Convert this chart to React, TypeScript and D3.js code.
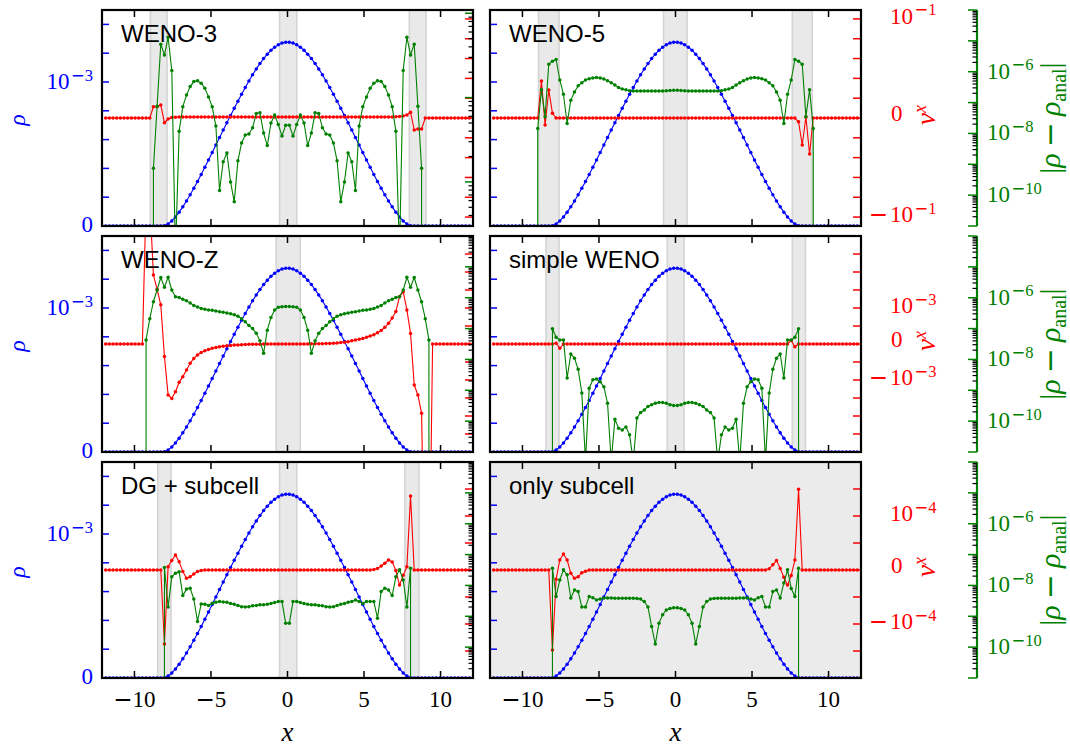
import React from "react";
import * as d3 from "d3";

// ---------------- data ----------------
const X_GRID = [
  -11.88, -11.64, -11.4, -11.16, -10.92, -10.68, -10.44, -10.2, -9.96, -9.72,
  -9.48, -9.24, -9.0, -8.76, -8.52, -8.28, -8.04, -7.8, -7.56, -7.32,
  -7.08, -6.84, -6.6, -6.36, -6.12, -5.88, -5.64, -5.4, -5.16, -4.92,
  -4.68, -4.44, -4.2, -3.96, -3.72, -3.48, -3.24, -3.0, -2.76, -2.52,
  -2.28, -2.04, -1.8, -1.56, -1.32, -1.08, -0.84, -0.6, -0.36, -0.12,
  0.12, 0.36, 0.6, 0.84, 1.08, 1.32, 1.56, 1.8, 2.04, 2.28,
  2.52, 2.76, 3.0, 3.24, 3.48, 3.72, 3.96, 4.2, 4.44, 4.68,
  4.92, 5.16, 5.4, 5.64, 5.88, 6.12, 6.36, 6.6, 6.84, 7.08,
  7.32, 7.56, 7.8, 8.04, 8.28, 8.52, 8.76, 9.0, 9.24, 9.48,
  9.72, 9.96, 10.2, 10.44, 10.68, 10.92, 11.16, 11.4, 11.64, 11.88,
];

const RHO = [
  0, 0, 0, 0, 0, 0, 0, 0, 0, 0,
  0, 0, 0, 0, 0, 0, 2e-6, 1.4e-5, 3.5e-5, 6.3e-5,
  9.6e-5, 1.33e-4, 1.74e-4, 2.17e-4, 2.62e-4, 3.09e-4, 3.58e-4, 4.08e-4, 4.59e-4, 5.1e-4,
  5.62e-4, 6.14e-4, 6.66e-4, 7.17e-4, 7.68e-4, 8.18e-4, 8.67e-4, 9.15e-4, 9.62e-4, 1.007e-3,
  1.05e-3, 1.091e-3, 1.128e-3, 1.163e-3, 1.193e-3, 1.22e-3, 1.242e-3, 1.259e-3, 1.27e-3, 1.276e-3,
  1.276e-3, 1.27e-3, 1.259e-3, 1.242e-3, 1.22e-3, 1.193e-3, 1.163e-3, 1.128e-3, 1.091e-3, 1.05e-3,
  1.007e-3, 9.62e-4, 9.15e-4, 8.67e-4, 8.18e-4, 7.68e-4, 7.17e-4, 6.66e-4, 6.14e-4, 5.62e-4,
  5.1e-4, 4.59e-4, 4.08e-4, 3.58e-4, 3.09e-4, 2.62e-4, 2.17e-4, 1.74e-4, 1.33e-4, 9.6e-5,
  6.3e-5, 3.5e-5, 1.4e-5, 2e-6, 0, 0, 0, 0, 0, 0,
  0, 0, 0, 0, 0, 0, 0, 0, 0, 0,
];

const VX_WENO3 = [
  0, 0, 0, 0, 0, 0, 0, 0, 0, 0,
  0, 0, 0, 5.7e-6, 5.7e-6, 6.6e-6, -2.4e-6, -5e-7, 3e-7, 4e-7,
  5e-7, 5e-7, 5e-7, 5e-7, 5e-7, 5e-7, 5e-7, 5e-7, 5e-7, 5e-7,
  5e-7, 5e-7, 5e-7, 5e-7, 5e-7, 5e-7, 5e-7, 5e-7, 5e-7, 5e-7,
  5e-7, 5e-7, 5e-7, 5e-7, 5e-7, 5e-7, 5e-7, 5e-7, 5e-7, 5e-7,
  5e-7, 5e-7, 5e-7, 5e-7, 5e-7, 5e-7, 5e-7, 5e-7, 5e-7, 5e-7,
  5e-7, 5e-7, 5e-7, 5e-7, 5e-7, 5e-7, 5e-7, 5e-7, 5e-7, 5e-7,
  5e-7, 5e-7, 5e-7, 5e-7, 5e-7, 5e-7, 5e-7, 5e-7, 5e-7, 6e-7,
  8e-7, 1.0e-6, 1.5e-6, 2.9e-6, -6.1e-6, -5.5e-6, -5.5e-6, 0, 0, 0,
  0, 0, 0, 0, 0, 0, 0, 0, 0, 0,
];

const VX_WENO5 = [
  0, 0, 0, 0, 0, 0, 0, 0, 0, 0,
  0, 0, 0, 7.4e-5, -3.5e-6, 2.6e-5, 2.4e-6, 0, 0, 0,
  0, 0, 0, 0, 0, 0, 0, 0, 0, 0,
  0, 0, 0, 0, 0, 0, 0, 0, 0, 0,
  0, 0, 0, 0, 0, 0, 0, 0, 0, 0,
  0, 0, 0, 0, 0, 0, 0, 0, 0, 0,
  0, 0, 0, 0, 0, 0, 0, 0, 0, 0,
  0, 0, 0, 0, 0, 0, 0, 0, 0, 0,
  0, 0, 0, -1.9e-6, -2.3e-5, 5e-7, -6.6e-5, 0, 0, 0,
  0, 0, 0, 0, 0, 0, 0, 0, 0, 0,
];

const VX_WENOZ = [
  0, 0, 0, 0, 0, 0, 0, 0, 0, 0,
  0, 1e3, 1e3, 6.8e-2, 1.1e-2, 1.5e-3, -7e-5, -6.8e-3, -1.05e-2, -4.5e-3,
  -1.35e-3, -6.5e-4, -2.75e-4, -1.17e-4, -8e-5, -6.1e-5, -4.7e-5, -3.7e-5, -3.0e-5, -2.4e-5,
  -1.9e-5, -1.5e-5, -1.2e-5, -1.0e-5, -8e-6, -6e-6, -5e-6, -4e-6, -3e-6, -2e-6,
  -2e-6, -1e-6, -1e-6, 0, 0, 0, 0, 0, 0, 0,
  0, 0, 0, 0, 0, 0, 1e-6, 1e-6, 2e-6, 2e-6,
  3e-6, 3e-6, 4e-6, 5e-6, 8e-6, 1.0e-5, 1.3e-5, 1.8e-5, 2.2e-5, 2.6e-5,
  3.1e-5, 3.7e-5, 4.4e-5, 5.2e-5, 6.2e-5, 7.5e-5, 9.3e-5, 1.4e-4, 2.8e-4, 6.3e-4,
  4.3e-3, 7.9e-3, 7.8e-4, 5.9e-5, -1.9e-3, -6.8e-3, -7.1e-2, -1e10, -1e10, 0,
  0, 0, 0, 0, 0, 0, 0, 0, 0, 0,
];

const VX_SIMPLE = [
  0, 0, 0, 0, 0, 0, 0, 0, 0, 0,
  0, 0, 0, 0, 0, 0, 0, 4e-6, -2.4e-5, 0,
  0, 0, 0, 0, 0, 0, 0, 0, 0, 0,
  0, 0, 0, 0, 0, 0, 0, 0, 0, 0,
  0, 0, 0, 0, 0, 0, 0, 0, 0, 0,
  0, 0, 0, 0, 0, 0, 0, 0, 0, 0,
  0, 0, 0, 0, 0, 0, 0, 0, 0, 0,
  0, 0, 0, 0, 0, 0, 0, 0, 0, 0,
  0, 2e-5, -1.5e-5, 0, 0, 0, 0, 0, 0, 0,
  0, 0, 0, 0, 0, 0, 0, 0, 0, 0,
];

const VX_DG = [
  0, 0, 0, 0, 0, 0, 0, 0, 0, 0,
  0, 0, 0, 0, 0, 0, -5.5e-4, 1.2e-6, 3.5e-6, 5.6e-6,
  3.1e-6, -6e-7, -3.1e-6, -2.5e-6, -1.5e-6, -6e-7, -2e-7, 0, 0, 0,
  0, 0, 0, 0, 0, 0, 0, 0, 0, 0,
  0, 0, 0, 0, 0, 0, 0, 0, 0, 0,
  0, 0, 0, 0, 0, 0, 0, 0, 0, 0,
  0, 0, 0, 0, 0, 0, 0, 0, 0, 0,
  0, 0, 0, 2e-7, 6e-7, 1.5e-6, 2.5e-6, 3.7e-6, 3.0e-6, -2e-7,
  -5.6e-6, -1.9e-6, 1.2e-6, 5.5e-4, 0, 0, 0, 0, 0, 0,
  0, 0, 0, 0, 0, 0, 0, 0, 0, 0,
];

const VX_SUB = [
  0, 0, 0, 0, 0, 0, 0, 0, 0, 0,
  0, 0, 0, 0, 0, 0, -9.1e-4, -3.4e-6, 3.7e-6, 5.9e-6,
  3.7e-6, -1.2e-6, -3.1e-6, -2.5e-6, -1e-6, -5e-7, 0, 0, 0, 0,
  0, 0, 0, 0, 0, 0, 0, 0, 0, 0,
  0, 0, 0, 0, 0, 0, 0, 0, 0, 0,
  0, 0, 0, 0, 0, 0, 0, 0, 0, 0,
  0, 0, 0, 0, 0, 0, 0, 0, 0, 0,
  0, 0, 0, 0, 0, 5e-7, 1.9e-6, 3.5e-6, 6e-7, -2.7e-6,
  -5.6e-6, -2e-6, 3.7e-6, 9.7e-4, 0, 0, 0, 0, 0, 0,
  0, 0, 0, 0, 0, 0, 0, 0, 0, 0,
];

const ERR_WENO3 = [
  0, 0, 0, 0, 0, 0, 0, 0, 0, 0,
  0, 0, 0, 1.45e-6, 7.9e-6, 4.3e-5, 3.2e-5, 5.2e-5, 2.1e-5, 1.4e-7,
  4.0e-6, 7.8e-6, 1.07e-5, 1.35e-5, 1.55e-5, 1.58e-5, 1.48e-5, 1.29e-5, 1.02e-5, 7.8e-6,
  4.6e-6, 7.9e-7, 1.74e-6, 2.2e-6, 1.0e-6, 5.8e-7, 1.78e-6, 2.9e-6, 3.6e-6, 3.7e-6,
  4.4e-6, 6.5e-6, 6.6e-6, 3.8e-6, 2.7e-6, 5.0e-6, 6.2e-6, 4.8e-6, 3.5e-6, 4.7e-6,
  4.7e-6, 3.5e-6, 4.8e-6, 6.2e-6, 5.0e-6, 2.7e-6, 3.8e-6, 6.6e-6, 6.5e-6, 4.4e-6,
  3.7e-6, 3.6e-6, 2.9e-6, 1.78e-6, 5.8e-7, 1.0e-6, 2.2e-6, 1.74e-6, 7.9e-7, 4.6e-6,
  7.8e-6, 1.02e-5, 1.29e-5, 1.48e-5, 1.58e-5, 1.55e-5, 1.35e-5, 1.07e-5, 7.8e-6, 4.0e-6,
  1.4e-7, 2.1e-5, 5.2e-5, 3.2e-5, 4.3e-5, 7.9e-6, 1.45e-6, 0, 0, 0,
  0, 0, 0, 0, 0, 0, 0, 0, 0, 0,
];

const ERR_WENO5 = [
  0, 0, 0, 0, 0, 0, 0, 0, 0, 0,
  0, 0, 1.45e-8, 2.6e-7, 3.5e-8, 1.74e-6, 2.2e-6, 2.5e-6, 5.4e-7, 1.86e-7,
  2.1e-8, 1.2e-7, 2.2e-7, 3.5e-7, 4.4e-7, 5.4e-7, 5.9e-7, 6.3e-7, 6.5e-7, 6.3e-7,
  5.8e-7, 5.1e-7, 4.4e-7, 3.7e-7, 3.1e-7, 2.75e-7, 2.6e-7, 2.4e-7, 2.35e-7, 2.35e-7,
  2.35e-7, 2.35e-7, 2.35e-7, 2.35e-7, 2.35e-7, 2.35e-7, 2.38e-7, 2.4e-7, 2.45e-7, 2.5e-7,
  2.5e-7, 2.45e-7, 2.4e-7, 2.38e-7, 2.35e-7, 2.35e-7, 2.35e-7, 2.35e-7, 2.35e-7, 2.35e-7,
  2.35e-7, 2.35e-7, 2.4e-7, 2.6e-7, 2.75e-7, 3.1e-7, 3.7e-7, 4.4e-7, 5.1e-7, 5.8e-7,
  6.3e-7, 6.5e-7, 6.3e-7, 5.9e-7, 5.4e-7, 4.4e-7, 3.5e-7, 2.2e-7, 1.2e-7, 2.1e-8,
  1.86e-7, 5.4e-7, 2.5e-6, 2.2e-6, 1.74e-6, 3.5e-8, 2.6e-7, 1.45e-8, 0, 0,
  0, 0, 0, 0, 0, 0, 0, 0, 0, 0,
];

const ERR_WENOZ = [
  0, 0, 0, 0, 0, 0, 0, 0, 0, 0,
  0, 4.3e-8, 2.1e-7, 7.4e-7, 1.78e-6, 4.5e-6, 2.2e-6, 4.6e-6, 1.78e-6, 1.07e-6,
  1.02e-6, 8.9e-7, 7.9e-7, 6.8e-7, 5.6e-7, 5.0e-7, 4.5e-7, 4.2e-7, 4.0e-7, 3.9e-7,
  3.7e-7, 3.5e-7, 3.4e-7, 3.2e-7, 3.0e-7, 2.8e-7, 2.5e-7, 2.1e-7, 1.66e-7, 1.25e-7,
  1.0e-7, 7.0e-8, 4.0e-8, 1.6e-8, 8.9e-8, 2.3e-7, 4.0e-7, 4.9e-7, 5.1e-7, 5.2e-7,
  5.2e-7, 5.1e-7, 4.9e-7, 4.0e-7, 2.3e-7, 8.9e-8, 1.6e-8, 4.0e-8, 7.0e-8, 1.0e-7,
  1.25e-7, 1.66e-7, 2.1e-7, 2.5e-7, 2.8e-7, 3.0e-7, 3.2e-7, 3.4e-7, 3.5e-7, 3.7e-7,
  3.9e-7, 4.0e-7, 4.2e-7, 4.5e-7, 5.0e-7, 5.6e-7, 6.8e-7, 7.9e-7, 8.9e-7, 1.02e-6,
  1.07e-6, 1.78e-6, 4.6e-6, 2.2e-6, 4.5e-6, 1.78e-6, 7.4e-7, 2.1e-7, 4.3e-8, 0,
  0, 0, 0, 0, 0, 0, 0, 0, 0, 0,
];

const ERR_SIMPLE = [
  0, 0, 0, 0, 0, 0, 0, 0, 0, 0,
  0, 0, 0, 0, 0, 0, 9.8e-8, 5.2e-8, 4.3e-8, 4.3e-8,
  2.5e-9, 1.5e-8, 1.1e-8, 4.8e-9, 8.1e-10, 5e-12, 1.17e-9, 2.2e-9, 2.3e-9, 1.9e-9,
  1.3e-9, 3.8e-10, 5e-12, 1.15e-10, 5.9e-11, 5.2e-11, 6.5e-11, 3.6e-11, 5e-12, 1.26e-10,
  1.9e-10, 2.3e-10, 3.0e-10, 3.4e-10, 3.8e-10, 4.0e-10, 4.0e-10, 3.8e-10, 3.4e-10, 3.2e-10,
  3.2e-10, 3.4e-10, 3.8e-10, 4.0e-10, 4.0e-10, 3.8e-10, 3.4e-10, 3.0e-10, 2.3e-10, 1.9e-10,
  1.26e-10, 5e-12, 3.6e-11, 6.5e-11, 5.2e-11, 5.9e-11, 1.15e-10, 5e-12, 3.8e-10, 1.3e-9,
  1.9e-9, 2.3e-9, 2.2e-9, 1.17e-9, 5e-12, 8.1e-10, 4.8e-9, 1.1e-8, 1.5e-8, 2.5e-9,
  4.3e-8, 4.3e-8, 5.2e-8, 9.8e-8, 0, 0, 0, 0, 0, 0,
  0, 0, 0, 0, 0, 0, 0, 0, 0, 0,
];

const ERR_DG = [
  0, 0, 0, 0, 0, 0, 0, 0, 0, 0,
  0, 0, 0, 0, 0, 0, 3.8e-8, 2.0e-9, 1.9e-8, 2.5e-8,
  2.8e-8, 4.7e-9, 7.6e-9, 8.1e-9, 3.6e-9, 6.8e-10, 2.5e-9, 2.45e-9, 2.25e-9, 2.65e-9,
  2.85e-9, 3.0e-9, 2.9e-9, 2.85e-9, 2.6e-9, 2.45e-9, 2.25e-9, 2.05e-9, 2.0e-9, 2.05e-9,
  2.2e-9, 2.25e-9, 2.35e-9, 2.35e-9, 2.45e-9, 2.6e-9, 2.8e-9, 3.0e-9, 3.0e-9, 6.0e-10,
  6.0e-10, 3.0e-9, 3.0e-9, 2.8e-9, 2.6e-9, 2.45e-9, 2.35e-9, 2.35e-9, 2.25e-9, 2.2e-9,
  2.05e-9, 2.0e-9, 2.05e-9, 2.25e-9, 2.45e-9, 2.6e-9, 2.85e-9, 3.0e-9, 3.4e-9, 3.0e-9,
  2.6e-9, 3.0e-9, 3.0e-9, 3.0e-9, 8.7e-10, 6.3e-9, 8.1e-9, 7.1e-9, 4.7e-9, 1.9e-8,
  3.2e-8, 1.5e-8, 2.0e-9, 3.6e-8, 0, 0, 0, 0, 0, 0,
  0, 0, 0, 0, 0, 0, 0, 0, 0, 0,
];

const ERR_SUB = [
  0, 0, 0, 0, 0, 0, 0, 0, 0, 0,
  0, 0, 0, 0, 0, 0, 3.6e-8, 4.4e-9, 1.5e-8, 3.2e-8,
  2.2e-8, 3.9e-9, 7.1e-9, 6.3e-9, 2.0e-9, 2.0e-9, 4.4e-9, 4.0e-9, 3.4e-9, 3.6e-9,
  3.9e-9, 3.9e-9, 3.9e-9, 3.85e-9, 3.85e-9, 3.85e-9, 3.85e-9, 3.85e-9, 3.85e-9, 3.8e-9,
  3.6e-9, 3.0e-9, 2.0e-9, 4.7e-10, 1.26e-10, 6.0e-10, 1.12e-9, 1.6e-9, 1.8e-9, 1.9e-9,
  1.9e-9, 1.8e-9, 1.6e-9, 1.12e-9, 6.0e-10, 1.26e-10, 4.7e-10, 2.0e-9, 3.0e-9, 3.6e-9,
  3.8e-9, 3.85e-9, 3.85e-9, 3.85e-9, 3.85e-9, 3.85e-9, 3.85e-9, 3.9e-9, 3.9e-9, 3.9e-9,
  3.6e-9, 3.4e-9, 4.0e-9, 4.4e-9, 2.0e-9, 2.0e-9, 6.3e-9, 7.1e-9, 3.9e-9, 1.2e-8,
  3.2e-8, 8.0e-9, 4.4e-9, 3.6e-8, 0, 0, 0, 0, 0, 0,
  0, 0, 0, 0, 0, 0, 0, 0, 0, 0,
];

const TITLES = ["WENO-3", "WENO-5", "WENO-Z", "simple WENO", "DG + subcell", "only subcell"];

const BANDS_WENO3 = [[-8.96, -7.87], [-0.52, 0.61], [7.96, 9.05]];
const BANDS_WENO5 = [[-8.95, -7.61], [-0.78, 0.76], [7.63, 8.93]];
const BANDS_WENOZ = [[-0.74, 0.83]];
const BANDS_SIMPLE = [[-8.46, -7.61], [-0.54, 0.56], [7.63, 8.49]];
const BANDS_DG = [[-8.48, -7.61], [-0.52, 0.61], [7.67, 8.59]];
const BANDS_SUB: number[][] = [];

const X_TICKS = [-10, -5, 0, 5, 10];
const RHO_TICKS = [2e-4, 4e-4, 6e-4, 8e-4, 1e-3, 1.2e-3, 1.4e-3];
const RHO_DOMAIN = [0, 1.5e-3];
const X_DOMAIN = [-12.12, 12.12];

const VX_LINTHRESH = [1e-5, 1e-4, 1e-5];
const VX_FMAX = [5.45, 6, 4];
const VX_TICKS = [
  [1e-5, 1e-4, 1e-3, 1e-2, 1e-1],
  [1e-4, 1e-3, 1e-2, 1e-1, 1],
  [1e-5, 1e-4, 1e-3],
];
const VX_LABEL_VAL = [1e-1, 1e-3, 1e-4];
const VX_LABEL_EXP = ["1", "3", "4"];

const ERR_DOMAIN = [1e-11, 1e-4];
const ERR_DOMAIN_WENO3 = [3.0e-7, 1.094e-4];
const ERR_LABEL_VALS = [1e-6, 1e-8, 1e-10];
const ERR_LABEL_EXPS = ["6", "8", "10"];

// ---------------- layout / style ----------------
const W = 1070;
const H = 746;
const COL_X = [102, 490];
const ROW_Y = [10, 236, 462];
const PW = 371;
const PH = 216;
const BLUE = "#0000ff";
const RED = "#ff0000";
const GREEN = "#008000";
const SERIF = "'Liberation Serif', 'Times New Roman', serif";
const MINUS_FONT = "'DejaVu Sans', sans-serif";
const SANS = "'Liberation Sans', Arial, Helvetica, sans-serif";
const GREEN_SPINE_X = 977;
const FS = 23;
const FS_SUP = 16.5;

const PANELS = [
  { vx: VX_WENO3, err: ERR_WENO3, bands: BANDS_WENO3, errDomain: ERR_DOMAIN_WENO3, shade: false },
  { vx: VX_WENO5, err: ERR_WENO5, bands: BANDS_WENO5, errDomain: ERR_DOMAIN, shade: false },
  { vx: VX_WENOZ, err: ERR_WENOZ, bands: BANDS_WENOZ, errDomain: ERR_DOMAIN, shade: false },
  { vx: VX_SIMPLE, err: ERR_SIMPLE, bands: BANDS_SIMPLE, errDomain: ERR_DOMAIN, shade: false },
  { vx: VX_DG, err: ERR_DG, bands: BANDS_DG, errDomain: ERR_DOMAIN, shade: false },
  { vx: VX_SUB, err: ERR_SUB, bands: BANDS_SUB, errDomain: ERR_DOMAIN, shade: true },
];

function symlog(v: number, t: number) {
  const a = Math.abs(v);
  return a <= t ? v / t : Math.sign(v) * (1 + Math.log10(a / t));
}

function logTicks(domain: number[]) {
  const major: number[] = [];
  const minor: number[] = [];
  const lo = Math.floor(Math.log10(domain[0])) - 1;
  const hi = Math.ceil(Math.log10(domain[1])) + 1;
  for (let d = lo; d <= hi; d++) {
    const base = Math.pow(10, d);
    if (base >= domain[0] * 0.999 && base <= domain[1] * 1.001) major.push(base);
    for (let k = 2; k <= 9; k++) {
      const v = k * base;
      if (v >= domain[0] && v <= domain[1]) minor.push(v);
    }
  }
  return { major, minor };
}

function PowText(props: {
  x: number; y: number; base: string; exp?: string; fill: string; anchor: string;
}) {
  return (
    <text x={props.x} y={props.y} fill={props.fill} fontFamily={SERIF} fontSize={FS} textAnchor={props.anchor as any}>
      <tspan>{props.base}</tspan>
      {props.exp ? (
        <tspan dy={-8.5} fontSize={FS_SUP}>
          <tspan fontFamily={MINUS_FONT} dx={1.5}>−</tspan>
          <tspan>{props.exp}</tspan>
        </tspan>
      ) : null}
    </text>
  );
}

function Panel({ k }: { k: number }) {
  const p = PANELS[k];
  const row = Math.floor(k / 2);
  const col = k % 2;
  const L = COL_X[col];
  const T = ROW_Y[row];
  const R = L + PW;
  const B = T + PH;
  const xs = d3.scaleLinear().domain(X_DOMAIN).range([L, R]);
  const yRho = d3.scaleLinear().domain(RHO_DOMAIN).range([B, T]);
  const t = VX_LINTHRESH[row];
  const fmax = VX_FMAX[row];
  const yF = d3.scaleLinear().domain([-fmax, fmax]).range([B, T]);
  const yV = (v: number) => yF(symlog(v, t));
  const yLog = d3.scaleLog().domain(p.errDomain).range([B, T]);
  const yE = (v: number) => (v > 0 ? yLog(v) : B + 100000);
  const clipId = `clip-${row}-${col}`;

  const series = [
    { data: RHO, y: (v: number) => yRho(v), color: BLUE },
    { data: p.vx, y: yV, color: RED },
    { data: p.err, y: yE, color: GREEN },
  ];

  const vxTickVals = [0, ...VX_TICKS[row], ...VX_TICKS[row].map((v) => -v)];
  const errTicks = logTicks(p.errDomain);

  return (
    <g>
      <defs>
        <clipPath id={clipId}>
          <rect x={L} y={T} width={PW} height={PH} />
        </clipPath>
      </defs>
      {p.shade ? <rect x={L} y={T} width={PW} height={PH} fill="#ebebeb" /> : null}
      {p.bands.map(([a, b], i) => (
        <g key={i}>
          <rect x={xs(a)} y={T} width={xs(b) - xs(a)} height={PH} fill="#e9e9e9" />
          <line x1={xs(a)} x2={xs(a)} y1={T} y2={B} stroke="#d4d4d4" strokeWidth={1.6} />
          <line x1={xs(b)} x2={xs(b)} y1={T} y2={B} stroke="#d4d4d4" strokeWidth={1.6} />
        </g>
      ))}
      <g clipPath={`url(#${clipId})`}>
        {series.map((s, si) => {
          const line = d3
            .line<number>()
            .x((_, i) => xs(X_GRID[i]))
            .y((d) => s.y(d));
          return (
            <g key={si}>
              <path d={line(s.data) || ""} fill="none" stroke={s.color} strokeWidth={1.1} />
              {s.data.map((d, i) => (
                <circle key={i} cx={xs(X_GRID[i])} cy={s.y(d)} r={1.75} fill={s.color} />
              ))}
            </g>
          );
        })}
      </g>
      {X_TICKS.map((v) => (
        <g key={v}>
          <line x1={xs(v)} x2={xs(v)} y1={T} y2={T + 7} stroke="#000" strokeWidth={1.5} />
          <line x1={xs(v)} x2={xs(v)} y1={B} y2={B - 7} stroke="#000" strokeWidth={1.5} />
        </g>
      ))}
      {RHO_TICKS.map((v) => (
        <line key={v} x1={L} x2={L + 7} y1={yRho(v)} y2={yRho(v)} stroke={BLUE} strokeWidth={1.5} />
      ))}
      {vxTickVals.map((v, i) => (
        <line key={"r" + i} x1={R} x2={R - 8} y1={yV(v)} y2={yV(v)} stroke={RED} strokeWidth={1.5} />
      ))}
      {col === 0
        ? errTicks.minor.map((v, i) => (
            <line key={"gm" + i} x1={R} x2={R - 4.5} y1={yLog(v)} y2={yLog(v)} stroke="#000" strokeWidth={1.2} />
          ))
        : null}
      {col === 0
        ? errTicks.major.map((v, i) => (
            <line key={"gM" + i} x1={R} x2={R - 8} y1={yLog(v)} y2={yLog(v)} stroke={GREEN} strokeWidth={1.5} />
          ))
        : null}
      <rect x={L} y={T} width={PW} height={PH} fill="none" stroke="#000" strokeWidth={2.2} />
      <text x={L + 19} y={T + 32} fontFamily={SANS} fontSize={24} fill="#000">
        {TITLES[k]}
      </text>
    </g>
  );
}

function RowAxes({ row }: { row: number }) {
  const T = ROW_Y[row];
  const B = T + PH;
  const cy = T + PH / 2;
  const yRho = d3.scaleLinear().domain(RHO_DOMAIN).range([B, T]);
  const t = VX_LINTHRESH[row];
  const fmax = VX_FMAX[row];
  const yF = d3.scaleLinear().domain([-fmax, fmax]).range([B, T]);
  const yV = (v: number) => yF(symlog(v, t));
  const yLog = d3.scaleLog().domain(ERR_DOMAIN).range([B, T]);
  const ticks = logTicks(ERR_DOMAIN);
  const lv = VX_LABEL_VAL[row];
  const lexp = VX_LABEL_EXP[row];
  return (
    <g>
      <PowText x={93} y={yRho(1e-3) + 7} base="10" exp="3" fill={BLUE} anchor="end" />
      <PowText x={93} y={yRho(0) + 6} base="0" fill={BLUE} anchor="end" />
      <text
        transform={`translate(25, ${cy + 2}) rotate(-90)`}
        textAnchor="middle"
        fontFamily={SERIF}
        fontStyle="italic"
        fontSize={24}
        fill={BLUE}
      >
        ρ
      </text>
      <PowText x={890} y={yV(lv) + 5} base="10" exp={lexp} fill={RED} anchor="start" />
      <PowText x={891} y={yV(0) + 3} base="0" fill={RED} anchor="start" />
      <text x={888} y={yV(-lv) + 5} fill={RED} fontFamily={MINUS_FONT} fontSize={FS} textAnchor="end">
        −
      </text>
      <PowText x={890} y={yV(-lv) + 5} base="10" exp={lexp} fill={RED} anchor="start" />
      <text
        transform={`translate(935, ${cy - 3}) rotate(-90)`}
        textAnchor="middle"
        fontFamily={SERIF}
        fontSize={27}
        fill={RED}
      >
        <tspan fontStyle="italic">v</tspan>
        <tspan dy={-9} fontSize={18} fontStyle="italic">
          x
        </tspan>
      </text>
      <line x1={GREEN_SPINE_X} x2={GREEN_SPINE_X} y1={T} y2={B} stroke={GREEN} strokeWidth={2.2} />
      {ticks.minor.map((v, i) => (
        <line
          key={"m" + i}
          x1={GREEN_SPINE_X}
          x2={GREEN_SPINE_X - 4.5}
          y1={yLog(v)}
          y2={yLog(v)}
          stroke="#000"
          strokeWidth={1.2}
        />
      ))}
      {ticks.major.map((v, i) => (
        <line
          key={"M" + i}
          x1={GREEN_SPINE_X}
          x2={GREEN_SPINE_X - 9}
          y1={yLog(v)}
          y2={yLog(v)}
          stroke={GREEN}
          strokeWidth={1.5}
        />
      ))}
      {ERR_LABEL_VALS.map((v, i) => (
        <PowText key={i} x={987} y={yLog(v) + 7} base="10" exp={ERR_LABEL_EXPS[i]} fill={GREEN} anchor="start" />
      ))}
      <text
        transform={`translate(1060, ${cy}) rotate(-90)`}
        textAnchor="middle"
        fontFamily={SERIF}
        fontSize={30}
        fill={GREEN}
      >
        |<tspan fontStyle="italic">ρ</tspan>
        <tspan fontFamily={MINUS_FONT} dx={6}>−</tspan>
        <tspan fontStyle="italic" dx={6}>ρ</tspan>
        <tspan dy={6} fontSize={20}>
          anal
        </tspan>
        <tspan dy={-6}>|</tspan>
      </text>
    </g>
  );
}

function XLabels({ col }: { col: number }) {
  const L = COL_X[col];
  const xs = d3.scaleLinear().domain(X_DOMAIN).range([L, L + PW]);
  return (
    <g>
      {X_TICKS.map((v) => (
        <text key={v} x={xs(v)} y={707} textAnchor="middle" fontFamily={SERIF} fontSize={FS} fill="#000">
          {v < 0 ? <tspan fontFamily={MINUS_FONT}>−</tspan> : null}
          <tspan>{String(Math.abs(v))}</tspan>
        </text>
      ))}
      <text x={xs(0)} y={741} textAnchor="middle" fontFamily={SERIF} fontStyle="italic" fontSize={27} fill="#000">
        x
      </text>
    </g>
  );
}

export default function App() {
  return (
    <svg
      width={W}
      height={H}
      viewBox={`0 0 ${W} ${H}`}
      style={{ position: "absolute", left: 0, top: 0, display: "block" }}
    >
      <rect x={0} y={0} width={W} height={H} fill="#ffffff" />
      {PANELS.map((_, k) => (
        <Panel key={k} k={k} />
      ))}
      {ROW_Y.map((_, r) => (
        <RowAxes key={r} row={r} />
      ))}
      <XLabels col={0} />
      <XLabels col={1} />
    </svg>
  );
}
